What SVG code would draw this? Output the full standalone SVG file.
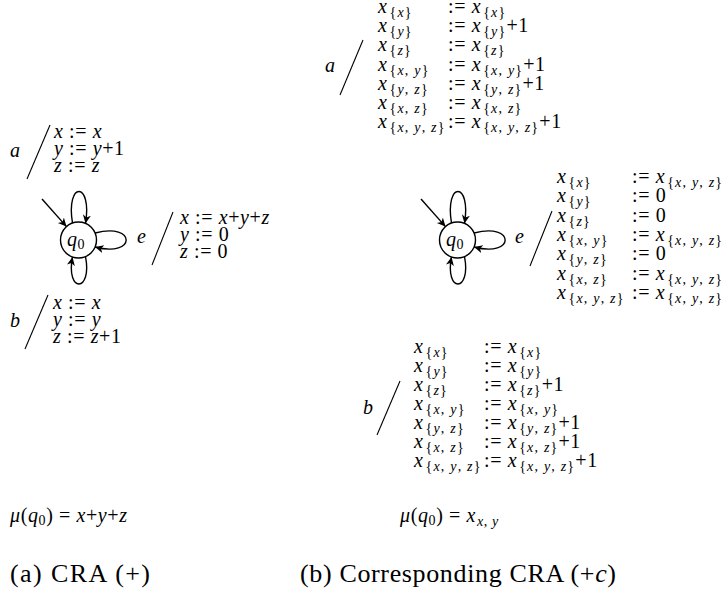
<svg xmlns="http://www.w3.org/2000/svg" width="728" height="599" viewBox="0 0 728 599">
<defs>
<style>
.m{font-family:"Liberation Serif","Times New Roman",serif;font-size:20px;font-style:italic;letter-spacing:0.6px;fill:#000}
.u{font-style:normal}
.i{font-style:italic}
.s{font-size:14px;font-style:normal;letter-spacing:1.2px}
.cap{font-family:"Liberation Serif","Times New Roman",serif;font-size:26px;fill:#000}
.st{fill:#fff;stroke:#000;stroke-width:1.4}
.ed{fill:none;stroke:#000;stroke-width:1.4}
.sl{stroke:#000;stroke-width:1.1}
</style>
<marker id="ah" markerUnits="userSpaceOnUse" markerWidth="11" markerHeight="10" refX="8.5" refY="4.25" orient="auto">
<path d="M0,0.2 L8.5,4.25 L0,8.3 L2.4,4.25 Z" fill="#000"/>
</marker>
</defs>

<g id="q0a">
<circle class="st" cx="78.5" cy="240" r="18"/>
<text class="m" x="67" y="246">q<tspan class="u" font-size="14" dy="3">0</tspan></text>
</g>
<g id="q0b">
<circle class="st" cx="457.5" cy="240" r="18"/>
<text class="m" x="446" y="246">q<tspan class="u" font-size="14" dy="3">0</tspan></text>
</g>

<g id="connectors">
<line class="ed" x1="42" y1="199" x2="66.5" y2="226.6" marker-end="url(#ah)"/>
<path class="ed" d="M72.5,223 C65.5,181 92.5,181 85.5,223.4" marker-end="url(#ah)"/>
<path class="ed" d="M95.1,233 C136.5,222 136.5,258 95.1,247" marker-end="url(#ah)"/>
<path class="ed" d="M85.5,256.6 C92.5,293 65.5,293 72.5,257" marker-end="url(#ah)"/>

<line class="ed" x1="421" y1="199" x2="445.5" y2="226.6" marker-end="url(#ah)"/>
<path class="ed" d="M451.5,223 C444.5,181 471.5,181 464.5,223.4" marker-end="url(#ah)"/>
<path class="ed" d="M474.1,233 C515.5,222 515.5,258 474.1,247" marker-end="url(#ah)"/>
<path class="ed" d="M464.5,256.6 C471.5,293 444.5,293 451.5,257" marker-end="url(#ah)"/>
</g>

<g id="label-a-left">
<text class="m" x="10" y="157">a</text>
<line class="sl" x1="27" y1="179" x2="50" y2="125"/>
<text class="m" x="54" y="138">x <tspan class="u">:=</tspan> x</text>
<text class="m" x="54" y="155">y <tspan class="u">:=</tspan> y<tspan class="u">+1</tspan></text>
<text class="m" x="54" y="172">z <tspan class="u">:=</tspan> z</text>
</g>
<g id="label-e-left">
<text class="m" x="137" y="243">e</text>
<line class="sl" x1="152" y1="265" x2="173" y2="212"/>
<text class="m" x="180" y="224">x <tspan class="u">:=</tspan> x<tspan class="u">+</tspan>y<tspan class="u">+</tspan>z</text>
<text class="m" x="180" y="241">y <tspan class="u">:= 0</tspan></text>
<text class="m" x="180" y="258">z <tspan class="u">:= 0</tspan></text>
</g>
<g id="label-b-left">
<text class="m" x="10" y="327">b</text>
<line class="sl" x1="25" y1="349" x2="48" y2="295"/>
<text class="m" x="53" y="309">x <tspan class="u">:=</tspan> x</text>
<text class="m" x="53" y="326">y <tspan class="u">:=</tspan> y</text>
<text class="m" x="53" y="343">z <tspan class="u">:=</tspan> z<tspan class="u">+1</tspan></text>
</g>
<g id="output-left">
<text class="m" x="10" y="522">μ<tspan class="u">(</tspan>q<tspan class="u" font-size="14" dy="3">0</tspan><tspan class="u" dy="-3">) = </tspan>x<tspan class="u">+</tspan>y<tspan class="u">+</tspan>z</text>
</g>

<g id="label-a-right">
<text class="m" x="325" y="72">a</text>
<line class="sl" x1="340" y1="95" x2="363" y2="40"/>
<text class="m" x="378" y="13">x<tspan class="s" dx="2" dy="4">{<tspan class="i">x</tspan>}</tspan></text>
<text class="m" x="448" y="13"><tspan class="u">:=</tspan> x<tspan class="s" dx="2" dy="4">{<tspan class="i">x</tspan>}</tspan></text>
<text class="m" x="378" y="32">x<tspan class="s" dx="2" dy="4">{<tspan class="i">y</tspan>}</tspan></text>
<text class="m" x="448" y="32"><tspan class="u">:=</tspan> x<tspan class="s" dx="2" dy="4">{<tspan class="i">y</tspan>}</tspan><tspan class="u" dy="-4">+1</tspan></text>
<text class="m" x="378" y="51">x<tspan class="s" dx="2" dy="4">{<tspan class="i">z</tspan>}</tspan></text>
<text class="m" x="448" y="51"><tspan class="u">:=</tspan> x<tspan class="s" dx="2" dy="4">{<tspan class="i">z</tspan>}</tspan></text>
<text class="m" x="378" y="70.5">x<tspan class="s" dx="2" dy="4">{<tspan class="i">x</tspan>, <tspan class="i">y</tspan>}</tspan></text>
<text class="m" x="448" y="70.5"><tspan class="u">:=</tspan> x<tspan class="s" dx="2" dy="4">{<tspan class="i">x</tspan>, <tspan class="i">y</tspan>}</tspan><tspan class="u" dy="-4">+1</tspan></text>
<text class="m" x="378" y="89.5">x<tspan class="s" dx="2" dy="4">{<tspan class="i">y</tspan>, <tspan class="i">z</tspan>}</tspan></text>
<text class="m" x="448" y="89.5"><tspan class="u">:=</tspan> x<tspan class="s" dx="2" dy="4">{<tspan class="i">y</tspan>, <tspan class="i">z</tspan>}</tspan><tspan class="u" dy="-4">+1</tspan></text>
<text class="m" x="378" y="108.5">x<tspan class="s" dx="2" dy="4">{<tspan class="i">x</tspan>, <tspan class="i">z</tspan>}</tspan></text>
<text class="m" x="448" y="108.5"><tspan class="u">:=</tspan> x<tspan class="s" dx="2" dy="4">{<tspan class="i">x</tspan>, <tspan class="i">z</tspan>}</tspan></text>
<text class="m" x="378" y="127.5">x<tspan class="s" dx="2" dy="4">{<tspan class="i">x</tspan>, <tspan class="i">y</tspan>, <tspan class="i">z</tspan>}</tspan></text>
<text class="m" x="448" y="127.5"><tspan class="u">:=</tspan> x<tspan class="s" dx="2" dy="4">{<tspan class="i">x</tspan>, <tspan class="i">y</tspan>, <tspan class="i">z</tspan>}</tspan><tspan class="u" dy="-4">+1</tspan></text>
</g>

<g id="label-e-right">
<text class="m" x="515" y="243">e</text>
<line class="sl" x1="530" y1="266" x2="552" y2="211"/>
<text class="m" x="557" y="183">x<tspan class="s" dx="2" dy="4">{<tspan class="i">x</tspan>}</tspan></text>
<text class="m" x="632" y="183"><tspan class="u">:=</tspan> x<tspan class="s" dx="2" dy="4">{<tspan class="i">x</tspan>, <tspan class="i">y</tspan>, <tspan class="i">z</tspan>}</tspan></text>
<text class="m" x="557" y="202.3">x<tspan class="s" dx="2" dy="4">{<tspan class="i">y</tspan>}</tspan></text>
<text class="m" x="632" y="202.3"><tspan class="u">:= 0</tspan></text>
<text class="m" x="557" y="221.6">x<tspan class="s" dx="2" dy="4">{<tspan class="i">z</tspan>}</tspan></text>
<text class="m" x="632" y="221.6"><tspan class="u">:= 0</tspan></text>
<text class="m" x="557" y="241">x<tspan class="s" dx="2" dy="4">{<tspan class="i">x</tspan>, <tspan class="i">y</tspan>}</tspan></text>
<text class="m" x="632" y="241"><tspan class="u">:=</tspan> x<tspan class="s" dx="2" dy="4">{<tspan class="i">x</tspan>, <tspan class="i">y</tspan>, <tspan class="i">z</tspan>}</tspan></text>
<text class="m" x="557" y="260.3">x<tspan class="s" dx="2" dy="4">{<tspan class="i">y</tspan>, <tspan class="i">z</tspan>}</tspan></text>
<text class="m" x="632" y="260.3"><tspan class="u">:= 0</tspan></text>
<text class="m" x="557" y="279.6">x<tspan class="s" dx="2" dy="4">{<tspan class="i">x</tspan>, <tspan class="i">z</tspan>}</tspan></text>
<text class="m" x="632" y="279.6"><tspan class="u">:=</tspan> x<tspan class="s" dx="2" dy="4">{<tspan class="i">x</tspan>, <tspan class="i">y</tspan>, <tspan class="i">z</tspan>}</tspan></text>
<text class="m" x="557" y="299">x<tspan class="s" dx="2" dy="4">{<tspan class="i">x</tspan>, <tspan class="i">y</tspan>, <tspan class="i">z</tspan>}</tspan></text>
<text class="m" x="632" y="299"><tspan class="u">:=</tspan> x<tspan class="s" dx="2" dy="4">{<tspan class="i">x</tspan>, <tspan class="i">y</tspan>, <tspan class="i">z</tspan>}</tspan></text>
</g>

<g id="label-b-right">
<text class="m" x="363" y="414">b</text>
<line class="sl" x1="377" y1="435" x2="400" y2="381"/>
<text class="m" x="414" y="353">x<tspan class="s" dx="2" dy="4">{<tspan class="i">x</tspan>}</tspan></text>
<text class="m" x="484" y="353"><tspan class="u">:=</tspan> x<tspan class="s" dx="2" dy="4">{<tspan class="i">x</tspan>}</tspan></text>
<text class="m" x="414" y="372">x<tspan class="s" dx="2" dy="4">{<tspan class="i">y</tspan>}</tspan></text>
<text class="m" x="484" y="372"><tspan class="u">:=</tspan> x<tspan class="s" dx="2" dy="4">{<tspan class="i">y</tspan>}</tspan></text>
<text class="m" x="414" y="391">x<tspan class="s" dx="2" dy="4">{<tspan class="i">z</tspan>}</tspan></text>
<text class="m" x="484" y="391"><tspan class="u">:=</tspan> x<tspan class="s" dx="2" dy="4">{<tspan class="i">z</tspan>}</tspan><tspan class="u" dy="-4">+1</tspan></text>
<text class="m" x="414" y="410">x<tspan class="s" dx="2" dy="4">{<tspan class="i">x</tspan>, <tspan class="i">y</tspan>}</tspan></text>
<text class="m" x="484" y="410"><tspan class="u">:=</tspan> x<tspan class="s" dx="2" dy="4">{<tspan class="i">x</tspan>, <tspan class="i">y</tspan>}</tspan></text>
<text class="m" x="414" y="429">x<tspan class="s" dx="2" dy="4">{<tspan class="i">y</tspan>, <tspan class="i">z</tspan>}</tspan></text>
<text class="m" x="484" y="429"><tspan class="u">:=</tspan> x<tspan class="s" dx="2" dy="4">{<tspan class="i">y</tspan>, <tspan class="i">z</tspan>}</tspan><tspan class="u" dy="-4">+1</tspan></text>
<text class="m" x="414" y="448">x<tspan class="s" dx="2" dy="4">{<tspan class="i">x</tspan>, <tspan class="i">z</tspan>}</tspan></text>
<text class="m" x="484" y="448"><tspan class="u">:=</tspan> x<tspan class="s" dx="2" dy="4">{<tspan class="i">x</tspan>, <tspan class="i">z</tspan>}</tspan><tspan class="u" dy="-4">+1</tspan></text>
<text class="m" x="414" y="467">x<tspan class="s" dx="2" dy="4">{<tspan class="i">x</tspan>, <tspan class="i">y</tspan>, <tspan class="i">z</tspan>}</tspan></text>
<text class="m" x="484" y="467"><tspan class="u">:=</tspan> x<tspan class="s" dx="2" dy="4">{<tspan class="i">x</tspan>, <tspan class="i">y</tspan>, <tspan class="i">z</tspan>}</tspan><tspan class="u" dy="-4">+1</tspan></text>
</g>
<g id="output-right">
<text class="m" x="400" y="522">μ<tspan class="u">(</tspan>q<tspan class="u" font-size="14" dy="3">0</tspan><tspan class="u" dy="-3">) = </tspan>x<tspan font-size="14" dx="1" dy="4">x<tspan class="u">,</tspan> y</tspan></text>
</g>

<g id="captions">
<text class="cap" x="10" y="582" textLength="140">(a) CRA (+)</text>
<text class="cap" x="300" y="582" textLength="316">(b) Corresponding CRA (+<tspan font-style="italic">c</tspan>)</text>
</g>
</svg>
